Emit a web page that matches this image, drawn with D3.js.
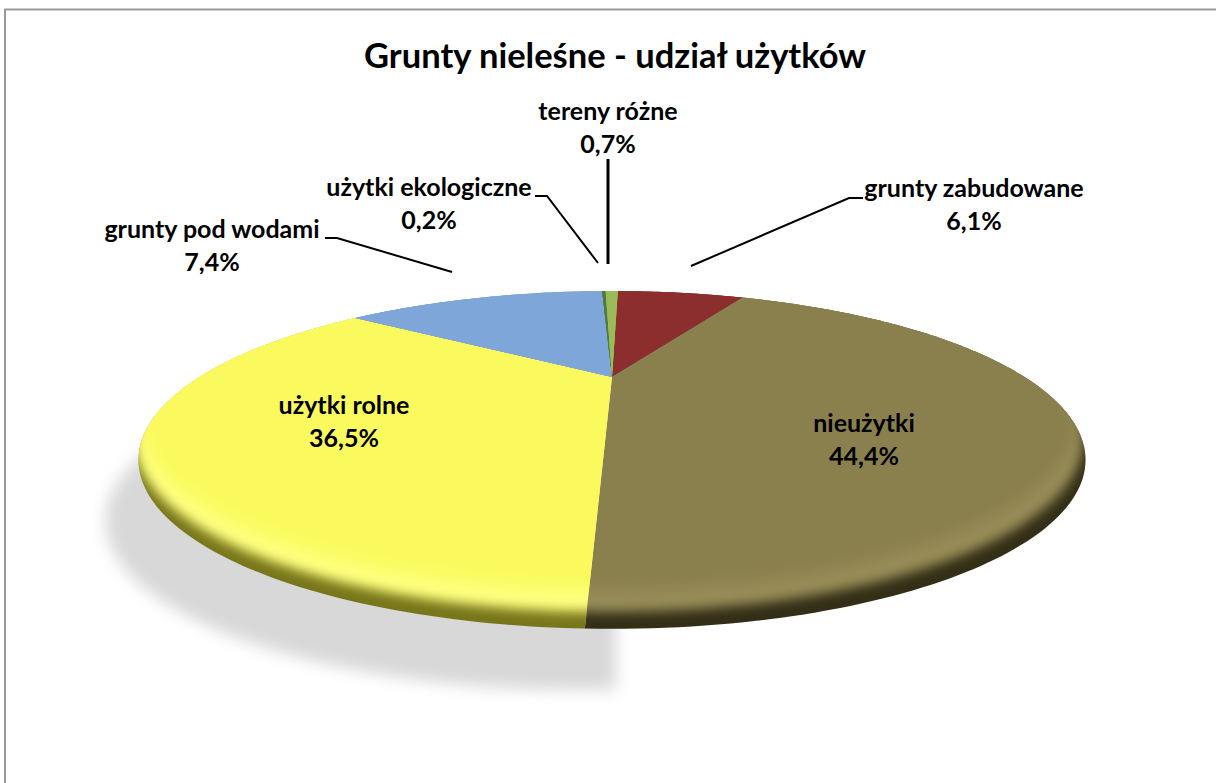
<!DOCTYPE html>
<html>
<head>
<meta charset="utf-8">
<style>
  html, body { margin: 0; padding: 0; background: #fff; }
  svg { display: block; }
  text { font-family: Lato, "Open Sans", sans-serif; font-weight: 700; fill: #000; text-anchor: middle; }
</style>
</head>
<body>
<div id="chart"></div>
<script src="https://cdn.jsdelivr.net/npm/d3@7"></script>
<script>
// Data
var chartTitle = "Grunty nieleśne - udział użytków";
var categories = ["grunty zabudowane", "nieużytki", "użytki rolne", "grunty pod wodami", "użytki ekologiczne", "tereny różne"];
// percentages as printed on the chart
var printedValues = ["6,1%", "44,4%", "36,5%", "7,4%", "0,2%", "0,7%"];
// wedge sizes as drawn: the printed values only sum to 95.3 and the blue wedge is much wider than 7.4
var wedgeShares = [7.2, 43.0, 34.6, 14.3, 0.2, 0.7];

// Styles for each category
var baseColors = ["#8c2f2f", "#8a804e", "#fafa5e", "#7fa6d9", "#4f7a3a", "#9bbb59"];
var lightColors = ["#96393a", "#988d58", "#ffff80", "#8ab0e0", "#5a8644", "#a5c463"];
var darkColors = ["#5a1c1c", "#332e16", "#77761a", "#4f6f96", "#33502a", "#657b3a"];

// Label placement, same order as categories
var labelX = [974, 864, 344, 212, 429, 608];
var labelY = [197, 432, 414, 238, 196, 120];
var leaders = [
    [[863, 198], [849, 198], [691, 266]],
    null,
    null,
    [[325, 238], [337, 238], [452, 272]],
    [[535, 196], [547, 196], [598, 263]],
    [[608, 159], [608, 264]]
];

// SVG Dimensions
var svgWidth = 1216;
var svgHeight = 783;

// Perspective of the disc
var cx = 612;
var cy = 377;
var k = 0.491;
var radiusX = 412.5;
var radiusY = 128.2;

// Disc point for an angle measured clockwise from the top, r = 1 is the rim
function project(angle, r) {
    var u = r * Math.sin(angle);
    var v = r * Math.cos(angle);
    var w = 1 + k * v;
    return [cx + radiusX * u / w, cy - radiusY * v / w];
}

var line = d3.line();

function wedgePath(d) {
    var points = [[cx, cy]];
    var steps = Math.max(4, Math.ceil((d.endAngle - d.startAngle) * 60));
    d3.range(steps + 1).forEach(function(i) {
        points.push(project(d.startAngle + (d.endAngle - d.startAngle) * i / steps, 1));
    });
    return line(points) + "Z";
}

// Whole disc, moved and scaled from its top edge for the bevel layers
function discPath(scaleX, scaleY, dx, dy) {
    var top = project(0, 1)[1];
    var points = d3.range(360).map(function(i) {
        var p = project(i * Math.PI / 180, 1);
        return [cx + (p[0] - cx) * scaleX + dx, top + (p[1] - top) * scaleY + dy];
    });
    return line(points) + "Z";
}

var svg = d3.select("#chart")
    .append("svg")
    .attr("width", svgWidth)
    .attr("height", svgHeight);

var defs = svg.append("defs");

[["blurLight", 6], ["blurBase", 8], ["blurShadow", 8]].forEach(function(b) {
    defs.append("filter")
        .attr("id", b[0])
        .attr("x", "-10%").attr("y", "-20%").attr("width", "120%").attr("height", "140%")
        .append("feGaussianBlur")
        .attr("stdDeviation", b[1]);
});

// Chart frame, only top and left are in the window
svg.append("path")
    .attr("d", "M5,783V9.5H1216")
    .attr("fill", "none")
    .attr("stroke", "#999")
    .attr("stroke-width", 2);

// Shadow
defs.append("clipPath")
    .attr("id", "shadowClip")
    .append("rect")
    .attr("x", 0).attr("y", 0).attr("width", 616).attr("height", svgHeight);

svg.append("g")
    .attr("filter", "url(#blurShadow)")
    .append("g")
    .attr("clip-path", "url(#shadowClip)")
    .append("path")
    .attr("d", discPath(1, 1, -33, 61))
    .attr("fill", "#d8d8d8");

// Wedges
var pie = d3.pie()
    .sort(null)
    .startAngle(1.2 * Math.PI / 180)
    .endAngle((360 + 1.2) * Math.PI / 180);

var arcs = pie(wedgeShares);

var wedges = svg.append("g")
    .selectAll("g")
    .data(arcs)
    .enter()
    .append("g");

wedges.each(function(d, i) {
    var id = "wedge" + i;
    defs.append("clipPath").attr("id", id)
        .append("path").attr("d", wedgePath(d));

    var layers = d3.select(this).attr("clip-path", "url(#" + id + ")");

    // rim colour, then a light band and the flat top on it
    layers.append("path")
        .attr("d", discPath(1.02, 1.02, 0, 0))
        .attr("fill", darkColors[i]);
    layers.append("path")
        .attr("d", discPath(1, 1.009, -3, -20))
        .attr("fill", lightColors[i])
        .attr("filter", "url(#blurLight)");
    layers.append("path")
        .attr("d", discPath(0.99, 1.003, -4, -40))
        .attr("fill", baseColors[i])
        .attr("filter", "url(#blurBase)");
});

// Leader lines
svg.append("g")
    .selectAll("path")
    .data(leaders.filter(function(l) { return l; }))
    .enter()
    .append("path")
    .attr("d", function(d) { return line(d); })
    .attr("fill", "none")
    .attr("stroke", "#000")
    .attr("stroke-width", function(d) { return d.length === 2 ? 3 : 2; });

// Title
svg.append("text")
    .attr("x", 615)
    .attr("y", 68)
    .attr("font-size", 34.5)
    .text(chartTitle);

// Data labels
var labels = svg.append("g")
    .selectAll("text")
    .data(categories)
    .enter()
    .append("text")
    .attr("font-size", 25)
    .attr("x", function(d, i) { return labelX[i]; })
    .attr("y", function(d, i) { return labelY[i]; });

labels.append("tspan")
    .text(function(d) { return d; });

labels.append("tspan")
    .attr("x", function(d, i) { return labelX[i]; })
    .attr("dy", 33)
    .text(function(d, i) { return printedValues[i]; });
</script>
</body>
</html>
